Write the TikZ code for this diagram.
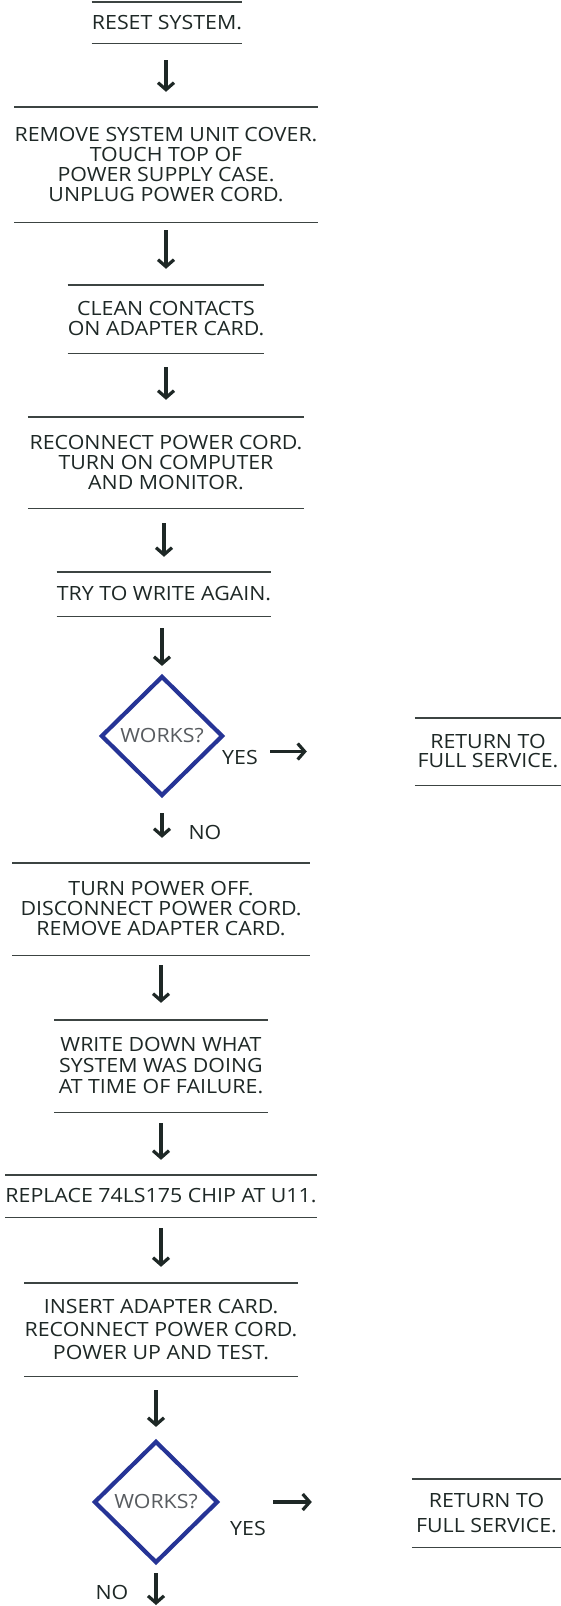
\documentclass[tikz,border=0pt]{standalone}
\usepackage{fontspec}
\setmainfont[FakeStretch=1.09]{Open Sans}
\usetikzlibrary{shapes.geometric,arrows.meta}
\definecolor{ink}{RGB}{30,40,38}
\definecolor{rulec}{RGB}{60,68,66}
\definecolor{dblue}{RGB}{38,52,150}
\definecolor{qgrey}{RGB}{88,92,96}
\tikzset{
  stepbox/.style={inner sep=0pt, align=center, text=ink, font=\fontsize{19.6}{20}\selectfont},
  rule/.style={draw=rulec, line width=1.4pt},
  arr/.style={draw=ink, line width=3.2pt, -{Straight Barb[length=7pt,width=16pt,line width=3.2pt]}},
  decision/.style={diamond, draw=dblue, line width=4.2pt, inner sep=0pt, text=qgrey, font=\fontsize{19.6}{20}\selectfont},
  lbl/.style={inner sep=0pt, text=ink, font=\fontsize{19.6}{20}\selectfont}
}
\begin{document}
\begin{tikzpicture}[x=1pt,y=1pt]
\useasboundingbox (0,0) rectangle (561,-1606);
\fill[white] (0,0) rectangle (561,-1606);

\node[stepbox, minimum width=149pt, minimum height=41pt] (b1) at (167,-22.5) {RESET SYSTEM.};
\node[stepbox, minimum width=300pt, minimum height=115pt] (b2) at (166,-164.5) {REMOVE SYSTEM UNIT COVER.\\TOUCH TOP OF\\POWER SUPPLY CASE.\\UNPLUG POWER CORD.};
\node[stepbox, minimum width=192pt, minimum height=68pt] (b3) at (166,-319) {CLEAN CONTACTS\\ON ADAPTER CARD.};
\node[stepbox, minimum width=276pt, minimum height=91pt] (b4) at (166,-462.5) {RECONNECT POWER CORD.\\TURN ON COMPUTER\\AND MONITOR.};
\node[stepbox, minimum width=212pt, minimum height=44pt] (b5) at (164,-594) {TRY TO WRITE AGAIN.};
\node[decision, minimum width=122pt, minimum height=120pt] (d1) at (162,-736) {WORKS?};
\node[stepbox, minimum width=146pt, minimum height=67pt, font=\fontsize{19.6}{19}\selectfont] (r1) at (488,-751.5) {RETURN TO\\FULL SERVICE.};
\node[stepbox, minimum width=297pt, minimum height=92pt] (b6) at (161,-909) {TURN POWER OFF.\\DISCONNECT POWER CORD.\\REMOVE ADAPTER CARD.};
\node[stepbox, minimum width=213pt, minimum height=92pt, font=\fontsize{19.6}{21}\selectfont] (b7) at (161,-1066) {WRITE DOWN WHAT\\SYSTEM WAS DOING\\AT TIME OF FAILURE.};
\node[stepbox, minimum width=297pt, minimum height=42pt] (b8) at (161,-1196) {REPLACE 74LS175 CHIP AT U11.};
\node[stepbox, minimum width=272pt, minimum height=93pt, font=\fontsize{19.6}{23}\selectfont] (b9) at (161,-1329.5) {INSERT ADAPTER CARD.\\RECONNECT POWER CORD.\\POWER UP AND TEST.};
\node[decision, minimum width=124pt, minimum height=122pt] (d2) at (156,-1502) {WORKS?};
\node[stepbox, minimum width=149pt, minimum height=68pt, font=\fontsize{19.6}{25}\selectfont] (r2) at (486.5,-1513) {RETURN TO\\FULL SERVICE.};

\foreach \n in {b1,b2,b3,b4,b5,b6,b7,b8,b9,r1,r2}
  \draw[rule] (\n.north west) -- (\n.north east) (\n.south west) -- (\n.south east);

\node[lbl] (y1) at ([shift={(78,-21)}]d1.center) {YES};
\node[lbl] (n1) at ([shift={(43,-96)}]d1.center) {NO};
\node[lbl] (y2) at ([shift={(92,-26)}]d2.center) {YES};
\node[lbl] (n2) at ([shift={(-44,-90)}]d2.center) {NO};
\coordinate (end) at (158,-1606);

\draw[arr, shorten <=17pt, shorten >=15pt] (b1.south -| b2.north) -- (b2.north);
\draw[arr, shorten <=8pt, shorten >=16pt] (b2.south -| b3.north) -- (b3.north);
\draw[arr, shorten <=14pt, shorten >=17pt] (b3.south -| b4.north) -- (b4.north);
\draw[arr, shorten <=15pt, shorten >=15pt] (b4.south -| b5.north) -- (b5.north);
\draw[arr, shorten <=12pt, shorten >=8pt] (b5.south -| d1.north) -- (d1.north);
\draw[arr, shorten <=15pt, shorten >=25pt] (d1.south) -- (d1.south |- b6.north);
\draw[arr, shorten <=10pt, shorten >=17pt] (b6.south -| b7.north) -- (b7.north);
\draw[arr, shorten <=11pt, shorten >=15pt] (b7.south -| b8.north) -- (b8.north);
\draw[arr, shorten <=11pt, shorten >=16pt] (b8.south -| b9.north) -- (b9.north);
\draw[arr, shorten <=14pt, shorten >=12pt] (b9.south -| d2.north) -- (d2.north);
\draw[arr, shorten <=8pt, shorten >=1pt] (d2.south) -- (d2.south |- end);
\draw[arr, shorten <=45pt, shorten >=108pt] (d1.east |- r1.west) -- (r1.west);
\draw[arr, shorten <=53pt, shorten >=100pt] (d2.east) -- (d2.east -| r2.west);
\end{tikzpicture}
\end{document}
